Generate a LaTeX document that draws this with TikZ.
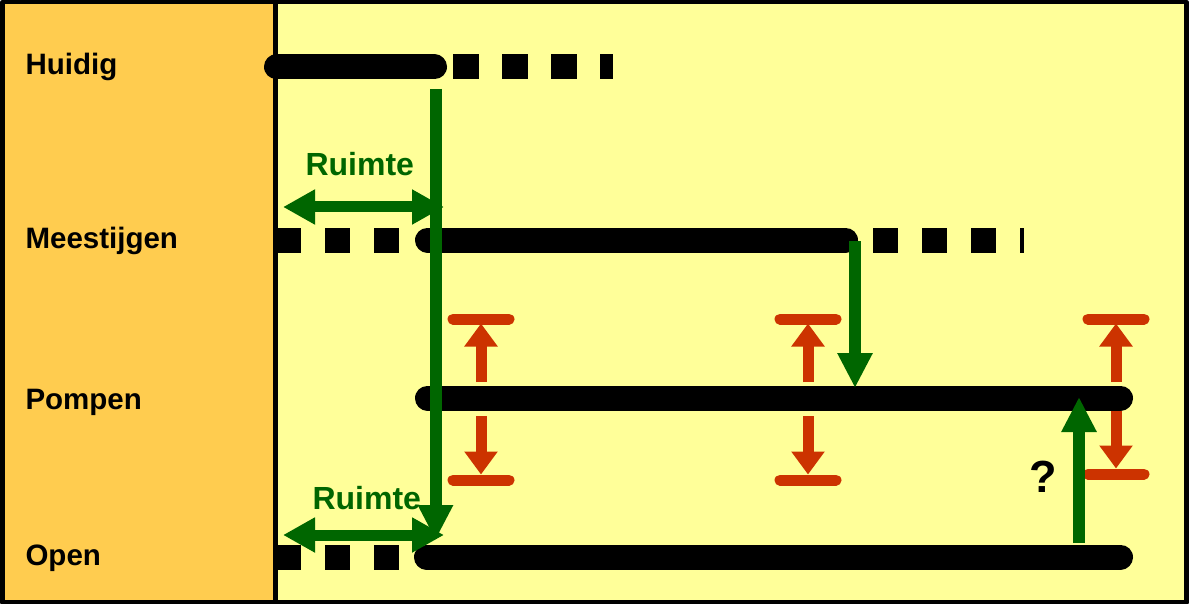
\documentclass[tikz,border=0pt]{standalone}
\usepackage{fontspec}
\setmainfont{Liberation Sans}
\usetikzlibrary{arrows.meta}
\definecolor{oranje}{HTML}{FFCC4F}
\definecolor{geel}{HTML}{FFFF99}
\definecolor{groen}{HTML}{006600}
\definecolor{rood}{HTML}{CC3300}
\begin{document}
\begin{tikzpicture}[x=1pt, y=-1pt, line join=round,
	balk/.style={line width=25pt, line cap=round},
	stippel/.style={line width=25pt, dash pattern=on 25pt off 24pt},
	groenpijl/.style={groen, line width=12pt, -{Triangle[length=35pt,width=33pt]}},
	ruimtepijl/.style={groen, line width=11pt, {Triangle[length=32pt,width=33pt]}-{Triangle[length=32pt,width=33pt]}},
	roodpijl/.style={rood, line width=11pt, -{Triangle[length=23pt,width=32pt]}},
	roodstreep/.style={rood, line width=11pt, line cap=round},
	rij/.style={anchor=base west, font=\fontsize{29.5}{30}\selectfont\bfseries},
	ruimte/.style={anchor=base west, groen, font=\fontsize{32}{34}\selectfont\bfseries}]
	\useasboundingbox (0,0) rectangle (1191,604);
	\fill[oranje] (5,4) rectangle (273,601); % kolom met namen
	\fill[geel] (278,4) rectangle (1184,601);
	\draw[line width=5pt] (275.5,2)--(275.5,602);
	\draw[line width=4.5pt] (2.5,2) rectangle (1186.5,602.5);
	% namen
	\node[rij] (huidig) at (22,75) {Huidig};
	\node[rij] (meestijgen) at (22,248) {Meestijgen};
	\node[rij] (pompen) at (22,409) {Pompen};
	\node[rij] (open) at (22,565) {Open};
	% punten op de balken
	\coordinate (h1) at (276.5,67);  \coordinate (h2) at (434.5,67);
	\coordinate (m1) at (427.5,240); \coordinate (m2) at (845.5,240);
	\coordinate (p1) at (427.5,398); \coordinate (p2) at (1120.5,398);
	\coordinate (o1) at (426.5,557); \coordinate (o2) at (1120.5,557);
	% balken
	\draw[balk] (h1)--(h2);
	\draw[stippel, dash pattern=on 25.5pt off 23.5pt] (453,67)--(613,67);
	\draw[stippel] (276,240)--(401,240);
	\draw[balk] (m1)--(m2);
	\draw[stippel] (873,240)--(1024,240);
	\draw[balk] (p1)--(p2);
	\draw[stippel] (276,557)--(401,557);
	\draw[balk] (o1)--(o2);
	% marges
	\foreach \x/\s/\o in {481/416/480, 808/416/480, 1116/411/474}{
		\draw[roodstreep] (\x-28,319)--(\x+28,319);
		\draw[roodpijl] (\x,382)--(\x,323.5);
		\draw[roodpijl] (\x,\s)--(\x,\o-5.5);
		\draw[roodstreep] (\x-28,\o)--(\x+28,\o);
	}
	% verschuivingen
	\coordinate (g1) at (435.5,89);   \coordinate (g2) at (435.5,540);
	\draw[groenpijl] (g1)--(g2);
	\coordinate (d1) at (855,241);    \coordinate (d2) at (855,388);
	\draw[groenpijl] (d1)--(d2);
	\coordinate (q1) at (1079,543);   \coordinate (q2) at (1079,397);
	\draw[groenpijl] (q1)--(q2);
	\node[anchor=base, font=\fontsize{45}{46}\selectfont\bfseries] (vraag) at (1043,492) {?};
	% ruimte
	\coordinate (r1) at (283,207);    \coordinate (r2) at (444,207);
	\draw[ruimtepijl] (r1)--(r2);
	\node[ruimte] (ruimteboven) at (302,176) {Ruimte};
	\coordinate (s1) at (283,535);    \coordinate (s2) at (444,535);
	\draw[ruimtepijl] (s1)--(s2);
	\node[ruimte] (ruimteonder) at (309,509) {Ruimte};
\end{tikzpicture}
\end{document}
